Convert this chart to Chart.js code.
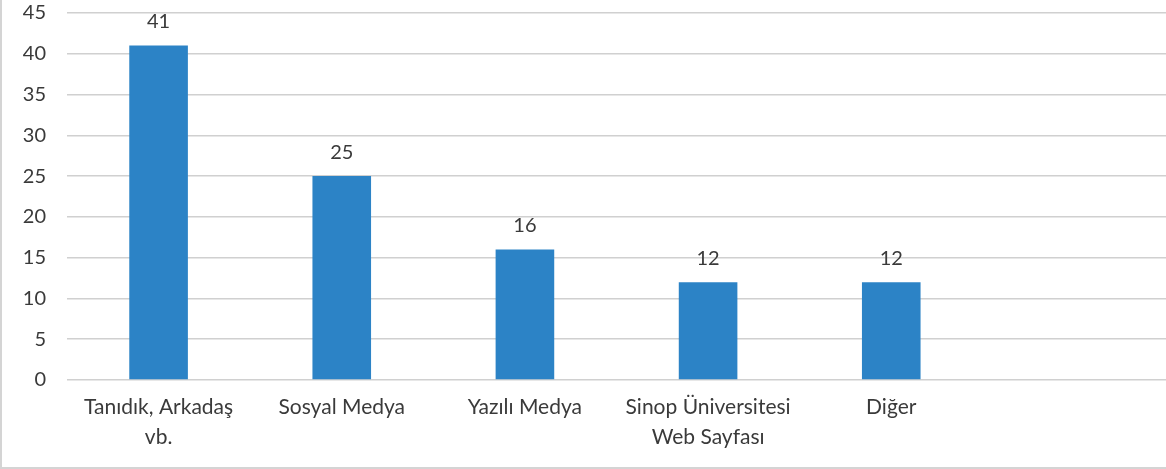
<!DOCTYPE html>
<html>
<head>
<meta charset="utf-8">
<script src="https://cdn.jsdelivr.net/npm/chart.js@4"></script>
<style>
  html, body { margin: 0; padding: 0; background: #fff; }
  .wrap { position: relative; width: 1166px; height: 469px; box-sizing: border-box; overflow: hidden;
          border-left: 2px solid #d4d4d4; border-bottom: 2px solid #d4d4d4; }
  .inner { position: absolute; left: 0; top: -20px; width: 1164px; height: 487px; }
</style>
</head>
<body>
<div class="wrap"><div class="inner"><canvas id="chart"></canvas></div></div>
<script>
const categories = [["Tanıdık, Arkadaş", "vb."], "Sosyal Medya", "Yazılı Medya", ["Sinop Üniversitesi", "Web Sayfası"], "Diğer", ""];
const values = [41, 25, 16, 12, 12, null];
const yTicks = [0, 5, 10, 15, 20, 25, 30, 35, 40, 45];

const valueLabels = {
    id: "valueLabels",
    afterDatasetsDraw(chart) {
        const ctx = chart.ctx;
        const meta = chart.getDatasetMeta(0);
        ctx.save();
        ctx.font = "20px Lato";
        ctx.fillStyle = "#3a3a3a";
        ctx.textAlign = "center";
        ctx.textBaseline = "bottom";
        meta.data.forEach((bar, i) => {
            if (values[i] == null) return;
            ctx.fillText(values[i], bar.x, bar.y - 14);
        });
        ctx.restore();
    },
};

const myChart = document.getElementById("chart");
new Chart(myChart, {
    type: "bar",
    data: {
        labels: categories,
        datasets: [
            {
                data: values,
                backgroundColor: "#2c83c6",
                categoryPercentage: 1,
                barPercentage: 0.32,
            },
        ],
    },
    options: {
        responsive: true,
        maintainAspectRatio: false,
        animation: false,
        layout: { padding: { top: 0, right: 0 } },
        plugins: {
            legend: { display: false },
            tooltip: { enabled: false },
        },
        scales: {
            x: {
                grid: { display: false, drawTicks: false },
                border: { display: false },
                ticks: {
                    padding: 13,
                    color: "#3a3a3a",
                    font: { family: "Lato", size: 21, lineHeight: 1.4 },
                    maxRotation: 0,
                    autoSkip: false,
                },
                afterFit: (s) => { s.height = 87; },
            },
            y: {
                min: 0,
                max: 45,
                afterBuildTicks: (s) => { s.ticks = yTicks.map((v) => ({ value: v })); },
                grid: { color: "#d0d0d0", lineWidth: 1.5, drawTicks: false },
                border: { display: false },
                ticks: {
                    padding: 21,
                    color: "#3a3a3a",
                    font: { family: "Lato", size: 20 },
                },
                afterFit: (s) => { s.width = 65; },
            },
        },
    },
    plugins: [valueLabels],
});
</script>
</body>
</html>
